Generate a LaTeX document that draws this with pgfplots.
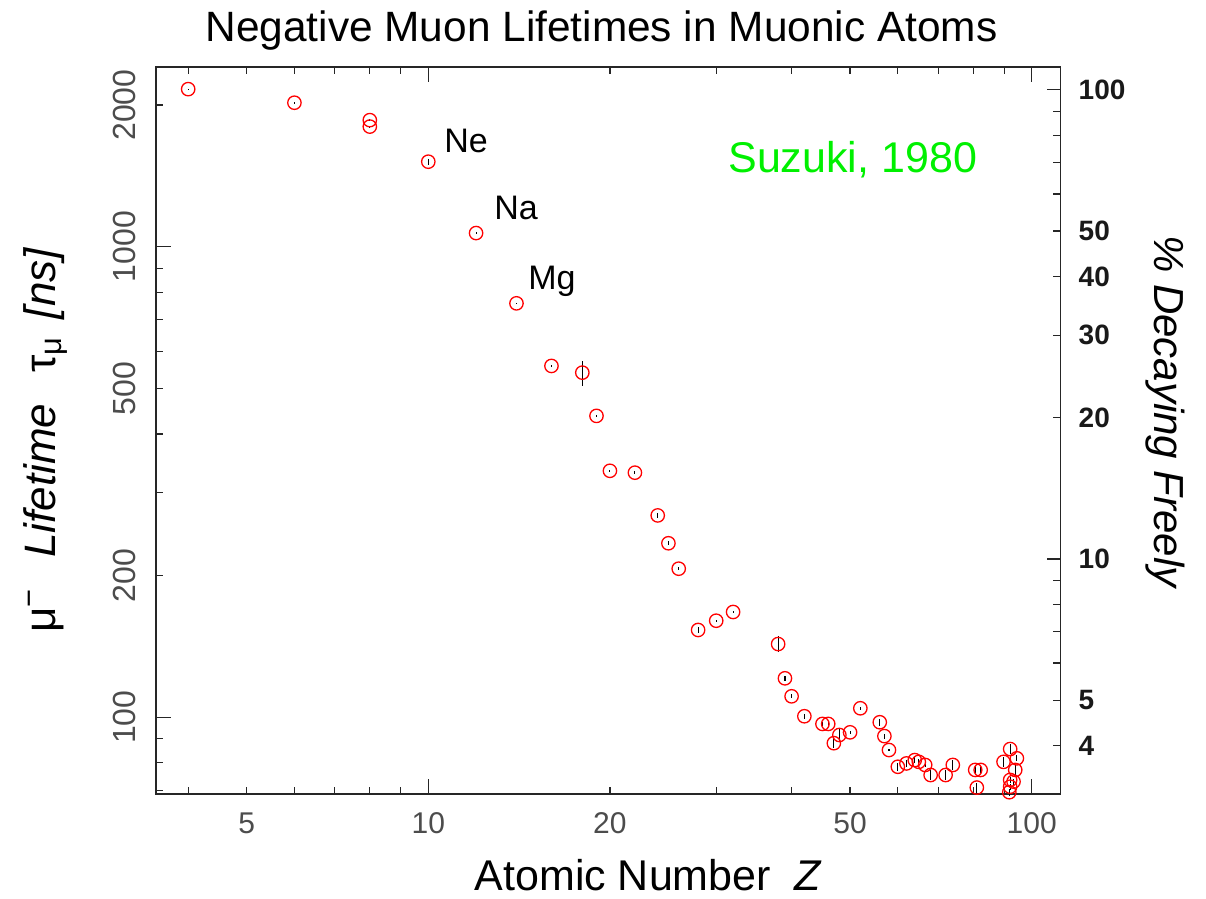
\documentclass[border=0pt]{standalone}
\usepackage{fontspec}
\setmainfont{Liberation Sans}
\usepackage{pgfplots}
\pgfplotsset{compat=1.18}
\usepackage{pgfplotstable}

\definecolor{markred}{rgb}{1,0,0}
\definecolor{labelgreen}{rgb}{0,0.94,0}
\definecolor{axisgray}{gray}{0.15}
\definecolor{ticklabelgray}{gray}{0.3}

% Z, lifetime [ns], error [ns]
\pgfplotstableread{
Z    t      e
4    2162   5
6    2023   5
8    1858   6
8    1800   6
10   1516   22
12   1069   4
14   758    3
16   558    2.5
18   540    33
19   437    2
20   334    2
22   331    2
24   268.5  3.3
25   234.3  2.3
26   206.9  1.5
28   153.3  2.2
30   160.4  0.8
32   167.4  0.8
38   143.1  5.6
39   121.0  1.5
40   110.8  1.1
42   100.5  1.2
45   96.8   1.0
46   96.8   1.4
47   88.1   2.2
48   91.7   3.0
50   92.9   0.7
52   104.5  0.8
56   97.6   1.7
57   91.2   1.1
58   85.2   0.6
60   78.5   1.5
62   79.8   1.2
64   81.1   1.2
65   80.4   1.2
66.6 79.2   0.8
68   75.4   1.8
72   75.4   1.8
74   79.2   1.9
80.6 77.3   1.5
82.3 77.3   1.2
81.1 70.9   1.7
89.8 80.4   2.0
92.1 85.6   2.1
94.5 81.8   1.2
93.9 77.3   1.9
92.1 73.6   1.1
93.3 73.0   1.1
92.1 71.2   1.1
91.8 69.3   1.1
}\muondata

\begin{document}
\begin{tikzpicture}[x=0.5pt,y=0.5pt]
\path[use as bounding box] (0,0) rectangle (1206,899);

% lifetime axis (left) with atomic number (bottom/top)
\begin{axis}[
  at={(78pt,52.5pt)}, anchor=south west,
  scale only axis, width=452.35pt, height=363.5pt,
  xmode=log, ymode=log,
  xmin=3.538, xmax=111.7, ymin=68.71, ymax=2409.6,
  clip=false,
  axis line style={axisgray, line width=0.75pt},
  every tick/.style={axisgray, line width=0.6pt},
  major tick length=7.5pt, minor tick length=3.7pt,
  tick align=inside,
  xtick pos=both, ytick pos=left,
  xtick={10,100}, xticklabels={10,100},
  extra x ticks={5,20,50}, extra x tick labels={5,20,50},
  minor xtick={4,6,7,8,9,30,40,60,70,80,90},
  ytick={100,1000}, yticklabels={100,1000},
  extra y ticks={200,500,2000}, extra y tick labels={200,500,2000},
  minor ytick={70,80,90,300,400,600,700,800,900},
  extra tick style={major tick length=3.7pt},
  xticklabel style={font=\fontsize{15}{15}\selectfont, text=ticklabelgray, anchor=north, inner sep=0pt},
  xticklabel shift=9pt,
  yticklabel style={font=\fontsize{16}{16}\selectfont, text=ticklabelgray, rotate=90, anchor=south, inner sep=0pt},
  yticklabel shift=10pt,
]
\addplot[only marks, mark=o, mark size=3.35pt,
  mark options={markred, line width=0.65pt},
  error bars/.cd, y dir=both, y explicit,
  error bar style={black, line width=0.55pt}, error mark=none]
  table[x=Z, y=t, y error=e]{\muondata};
\end{axis}

% percentage decaying freely (right)
\begin{axis}[
  at={(78pt,52.5pt)}, anchor=south west,
  scale only axis, width=452.35pt, height=363.5pt,
  ymode=log, xmin=0, xmax=1, ymin=3.155, ymax=111.9,
  hide x axis, axis y line*=right,
  axis line style={axisgray, line width=0.75pt},
  every tick/.style={axisgray, line width=0.6pt},
  major tick length=7pt, minor tick length=3.7pt,
  tick align=inside,
  ytick={10,100}, yticklabels={10,100},
  extra y ticks={4,5,20,30,40,50}, extra y tick labels={4,5,20,30,40,50},
  minor ytick={6,7,8,9,60,70,80,90},
  extra tick style={major tick length=3.7pt},
  yticklabel style={font=\fontsize{14}{14}\selectfont\bfseries, text=black!90, anchor=west, inner sep=0pt},
  yticklabel shift=8.8pt,
]
\end{axis}

\node[anchor=base, inner sep=0pt, font=\fontsize{21.2}{24}\selectfont] at (601.5,857) {Negative Muon Lifetimes in Muonic Atoms};
\node[anchor=base, inner sep=0pt, font=\fontsize{21.5}{24}\selectfont] at (648.5,8) {Atomic Number\ \ \textit{Z}};
\node[anchor=base, inner sep=0pt, rotate=90, font=\fontsize{22}{24}\selectfont] at (55,459) {μ\textsuperscript{−}\hspace{0.7em}\textit{Lifetime}\hspace{0.7em}τ\textsubscript{μ}\hspace{0.4em}\textit{[ns]}};
\node[anchor=base, inner sep=0pt, rotate=-90, font=\fontsize{21}{24}\selectfont] at (1154,486.5) {\textit{\% Decaying Freely}};
\node[anchor=base west, inner sep=0pt, text=labelgreen, font=\fontsize{21.5}{24}\selectfont] at (728,726.7) {Suzuki, 1980};
\node[anchor=base west, inner sep=0pt, font=\fontsize{17}{20}\selectfont] at (444,746.3) {Ne};
\node[anchor=base west, inner sep=0pt, font=\fontsize{17}{20}\selectfont] at (494,679.7) {Na};
\node[anchor=base west, inner sep=0pt, font=\fontsize{17}{20}\selectfont] at (528,609) {Mg};
\end{tikzpicture}
\end{document}
